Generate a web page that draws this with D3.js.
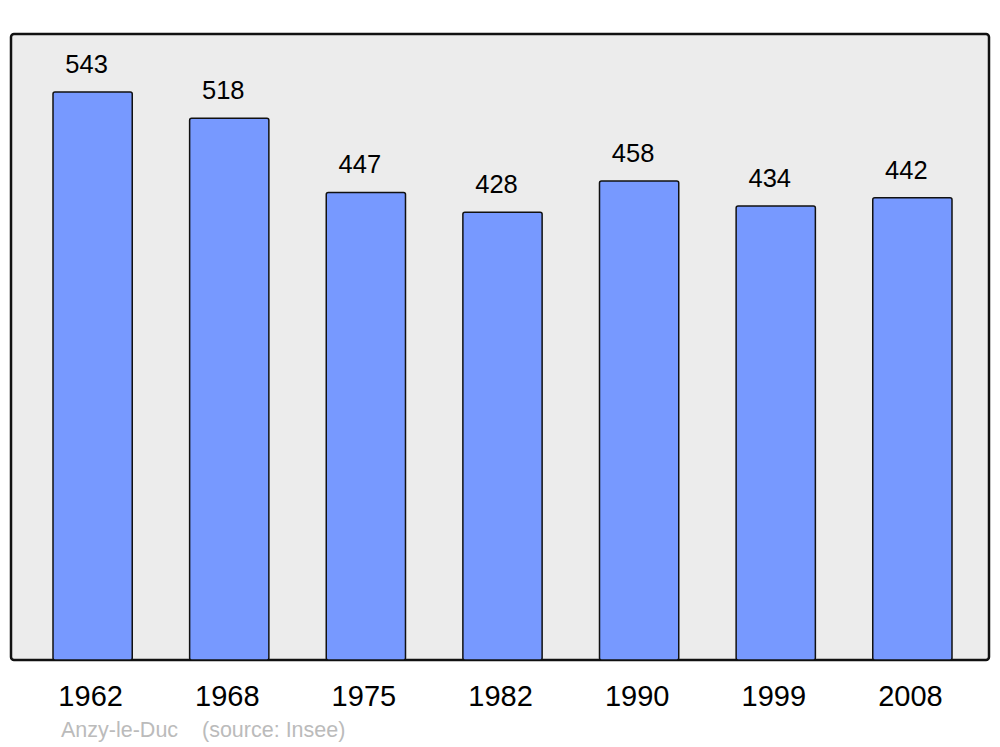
<!DOCTYPE html>
<html><head><meta charset="utf-8">
<script src="https://cdn.jsdelivr.net/npm/d3@7"></script>
<style>body{margin:0;background:#fff}svg{display:block}</style>
</head><body>
<svg id="c" width="1000" height="747"></svg>
<script>
const years = ["1962","1968","1975","1982","1990","1999","2008"];
const population = [543,518,447,428,458,434,442];
const placeName = "Anzy-le-Duc";
const sourceText = "(source: Insee)";

const svg = d3.select("#c");
const font = "'Liberation Sans', Arial, sans-serif";

svg.append("rect").attr("x",11).attr("y",34).attr("width",978).attr("height",626)
  .attr("rx",3).attr("fill","#ececec").attr("stroke","#111").attr("stroke-width",2.5);

const x = d3.scaleBand().domain(years).range([53,952]).paddingInner(0.42).paddingOuter(0);
const y = d3.scaleLinear().domain([0,543]).range([660,92]);

const data = years.map((yr,i)=>({yr, v: population[i]}));

svg.selectAll("rect.bar").data(data).join("rect").attr("class","bar")
  .attr("x",d=>x(d.yr)).attr("y",d=>y(d.v))
  .attr("width",x.bandwidth()).attr("height",d=>y(0)-y(d.v))
  .attr("rx",2).attr("fill","#7799ff").attr("stroke","#111").attr("stroke-width",1.5);

svg.selectAll("text.val").data(data).join("text").attr("class","val")
  .attr("x",d=>x(d.yr)+x.bandwidth()/2-6).attr("y",d=>y(d.v)-19)
  .attr("text-anchor","middle").attr("font-family",font).attr("font-size",25.5)
  .attr("fill","#000").text(d=>d.v);

const axis = d3.axisBottom(x).tickSize(0).tickPadding(0);
const g = svg.append("g").attr("transform","translate(-2,685)").call(axis);
g.select(".domain").remove();
g.selectAll("text").attr("font-family",font).attr("font-size",29).attr("fill","#000");

svg.append("text").attr("x",61).attr("y",737).attr("font-family",font).attr("font-size",21.5)
  .attr("fill","#bbb").text(placeName);
svg.append("text").attr("x",202).attr("y",737).attr("font-family",font).attr("font-size",21.5)
  .attr("fill","#bbb").text(sourceText);
</script>
</body></html>
